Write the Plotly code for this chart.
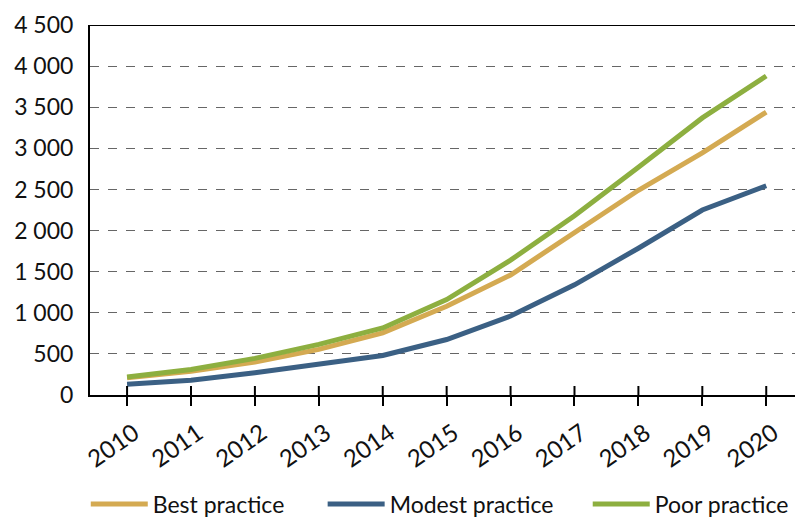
import plotly.graph_objects as go

years = [2010, 2011, 2012, 2013, 2014, 2015, 2016, 2017, 2018, 2019, 2020]
best_practice = [210, 290, 400, 555, 755, 1080, 1460, 1970, 2490, 2945, 3440]
modest_practice = [130, 180, 270, 375, 480, 675, 960, 1340, 1785, 2250, 2545]
poor_practice = [220, 310, 445, 615, 815, 1160, 1640, 2180, 2770, 3370, 3880]

y_ticks = [0, 500, 1000, 1500, 2000, 2500, 3000, 3500, 4000, 4500]
y_labels = ["0", "500", "1 000", "1 500", "2 000", "2 500", "3 000", "3 500", "4 000", "4 500"]

series = [
    ("Best practice", best_practice, "#D4AA52", "legend"),
    ("Modest practice", modest_practice, "#3B6084", "legend2"),
    ("Poor practice", poor_practice, "#8DAF40", "legend3"),
]

fig = go.Figure()
for name, vals, col, leg in series:
    fig.add_trace(go.Scatter(x=years, y=vals, mode="lines", name=name, legend=leg,
                             line=dict(color=col, width=5)))

font_family = "Lato, Open Sans, sans-serif"
leg_common = dict(orientation="h", xanchor="left", y=-0.295, yanchor="middle",
                  font=dict(size=23), itemwidth=57, bgcolor="rgba(0,0,0,0)")
fig.update_layout(
    width=795, height=518,
    margin=dict(l=90, r=0, t=25, b=123, autoexpand=False),
    plot_bgcolor="white", paper_bgcolor="white",
    font=dict(family=font_family, size=23, color="#111"),
    showlegend=True,
    legend=dict(x=-0.006, **leg_common),
    legend2=dict(x=0.330, **leg_common),
    legend3=dict(x=0.706, **leg_common),
    xaxis=dict(range=[2009.42, 2020.45], tickvals=years, ticktext=[str(y) for y in years],
               tickangle=-35, showgrid=False, showline=True, linecolor="black", linewidth=2,
               ticks="outside", ticklen=9, tickwidth=2, tickcolor="black", zeroline=False,
               ticklabelshift=7, ticklabelstandoff=4, tickfont=dict(size=24),
               automargin=False),
    yaxis=dict(range=[0, 4500], tickvals=y_ticks, ticktext=y_labels, showgrid=True,
               gridcolor="#666", griddash="dash", gridwidth=1, showline=True,
               linecolor="black", linewidth=2, ticks="", zeroline=False, ticklabelstandoff=10,
               automargin=False),
)
# upper half of the crossing tick marks
for yr in years:
    fig.add_shape(type="line", xref="x", yref="y domain", x0=yr, x1=yr, y0=0, y1=9 / 370,
                  line=dict(color="black", width=2), layer="above")
fig.add_shape(type="line", xref="paper", yref="y", x0=0, x1=1, y0=4500, y1=4500,
              line=dict(color="black", width=2))
fig.write_html("out.html", config={"displayModeBar": False},
               post_script="document.body.style.margin='0';"
               "document.body.style.padding='0';")
